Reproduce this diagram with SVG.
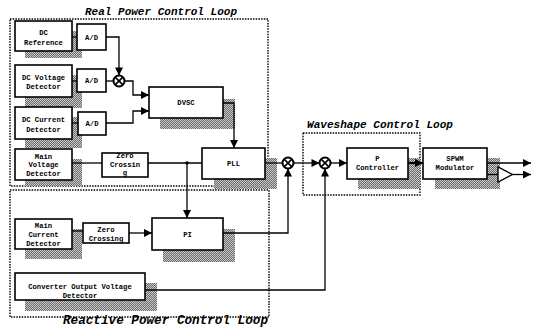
<svg xmlns="http://www.w3.org/2000/svg" width="543" height="327" viewBox="0 0 543 327">
<defs>
<pattern id="ht" width="2" height="2" patternUnits="userSpaceOnUse">
<rect width="2" height="2" fill="#6a6a6a"/>
<rect width="1" height="1" fill="#d0d0d0"/>
<rect x="1" y="1" width="1" height="1" fill="#c4c4c4"/>
</pattern>
<marker id="ar" viewBox="0 0 10 10" refX="10" refY="5" markerWidth="9" markerHeight="8" markerUnits="userSpaceOnUse" orient="auto">
<path d="M0,0 L10,5 L0,10 Z" fill="#000"/>
</marker>
</defs>
<style>
.bx{fill:#fff;stroke:#000;stroke-width:1.6}
.sh{fill:url(#ht);stroke:none}
.lp{fill:none;stroke:#000;stroke-width:1.4;stroke-dasharray:1.5 1.2}
.t{font-family:"Liberation Mono","DejaVu Sans Mono",monospace;font-weight:bold;font-size:7.2px;text-anchor:middle;fill:#000}
.ti{font-family:"Liberation Mono","DejaVu Sans Mono",monospace;font-weight:bold;font-style:italic;fill:#000}
.c{fill:none;stroke:#000;stroke-width:1.3}
.ca{fill:none;stroke:#000;stroke-width:1.3;marker-end:url(#ar)}
.sj{fill:#fff;stroke:#000;stroke-width:2}
</style>
<rect width="543" height="327" fill="#fff"/>

<g id="loops">
<rect class="lp" x="10" y="19" width="258" height="167"/>
<rect class="lp" x="10" y="190" width="259" height="127"/>
<rect class="lp" x="303" y="133" width="117" height="62"/>
<text class="ti" x="85" y="15" font-size="11" textLength="152" lengthAdjust="spacingAndGlyphs">Real Power Control Loop</text>
<text class="ti" x="307" y="128" font-size="11" textLength="146" lengthAdjust="spacingAndGlyphs">Waveshape Control Loop</text>
<text class="ti" x="63" y="323.5" font-size="12.2" textLength="205" lengthAdjust="spacingAndGlyphs">Reactive Power Control Loop</text>
</g>

<g id="dc-reference">
<rect class="sh" x="25" y="31" width="57" height="27"/>
<rect class="bx" x="15" y="21" width="57" height="30"/>
<text class="t" x="43.5" y="34.5">DC</text>
<text class="t" x="43.5" y="44.5">Reference</text>
</g>
<g id="dc-voltage-detector">
<rect class="sh" x="25" y="75" width="57" height="33"/>
<rect class="bx" x="15" y="65" width="57" height="32"/>
<text class="t" x="43.5" y="79.5">DC Voltage</text>
<text class="t" x="43.5" y="88.5">Detector</text>
</g>
<g id="dc-current-detector">
<rect class="sh" x="25" y="117" width="57" height="31"/>
<rect class="bx" x="15" y="107" width="57" height="32"/>
<text class="t" x="43.5" y="121.5">DC Current</text>
<text class="t" x="43.5" y="131.5">Detector</text>
</g>
<g id="main-voltage-detector">
<rect class="sh" x="25" y="159" width="57" height="27"/>
<rect class="bx" x="15" y="149" width="57" height="31"/>
<text class="t" x="43.5" y="158.5">Main</text>
<text class="t" x="43.5" y="167">Voltage</text>
<text class="t" x="43.5" y="175.5">Detector</text>
</g>
<g id="ad1">
<rect class="bx" x="77" y="24" width="29" height="26"/>
<text class="t" x="91.5" y="39.5">A/D</text>
</g>
<g id="ad2">
<rect class="bx" x="77" y="69" width="29" height="23"/>
<text class="t" x="91.5" y="83">A/D</text>
</g>
<g id="ad3">
<rect class="bx" x="78" y="112" width="28" height="23"/>
<text class="t" x="92" y="126">A/D</text>
</g>
<g id="sum1">
<circle class="sj" cx="119" cy="81" r="5.5"/>
<path d="M115.1,77.1 L122.9,84.9 M122.9,77.1 L115.1,84.9" stroke="#000" stroke-width="1.6"/>
</g>
<g id="dvsc">
<rect class="sh" x="160" y="99" width="75" height="30"/>
<rect class="bx" x="149" y="87" width="74" height="31"/>
<text class="t" x="186" y="105">DVSC</text>
</g>
<g id="zero-crossing-1">
<rect class="bx" x="102" y="153" width="46" height="24"/>
<text class="t" x="125" y="157.5">Zero</text>
<text class="t" x="125" y="166.5">Crossin</text>
<text class="t" x="125" y="175">g</text>
</g>
<g id="pll">
<rect class="sh" x="214" y="158" width="63" height="31"/>
<rect class="bx" x="202" y="148" width="63" height="31"/>
<text class="t" x="233.5" y="166">PLL</text>
</g>
<g id="main-current-detector">
<rect class="sh" x="25" y="229" width="57" height="30"/>
<rect class="bx" x="15" y="219" width="57" height="30"/>
<text class="t" x="43.5" y="227.5">Main</text>
<text class="t" x="43.5" y="236.5">Current</text>
<text class="t" x="43.5" y="245.5">Detector</text>
</g>
<g id="zero-crossing-2">
<rect class="bx" x="83" y="223" width="46" height="20"/>
<text class="t" x="106" y="231.5">Zero</text>
<text class="t" x="106" y="241">Crossing</text>
</g>
<g id="pi">
<rect class="sh" x="163" y="229" width="72" height="33"/>
<rect class="bx" x="152" y="218" width="71" height="32"/>
<text class="t" x="187.5" y="236.5">PI</text>
</g>
<g id="converter-output-voltage-detector">
<rect class="sh" x="25" y="283" width="132" height="28"/>
<rect class="bx" x="15" y="273" width="130" height="27"/>
<text class="t" x="80" y="288.5">Converter Output Voltage</text>
<text class="t" x="80" y="297.5">Detector</text>
</g>
<g id="sum2">
<circle class="sj" cx="288" cy="163" r="5.5"/>
<path d="M284.1,159.1 L291.9,166.9 M291.9,159.1 L284.1,166.9" stroke="#000" stroke-width="1.6"/>
</g>
<g id="sum3">
<circle class="sj" cx="325" cy="163" r="5.5"/>
<path d="M321.1,159.1 L328.9,166.9 M328.9,159.1 L321.1,166.9" stroke="#000" stroke-width="1.6"/>
</g>
<g id="p-controller">
<rect class="sh" x="358" y="158" width="62" height="31"/>
<rect class="bx" x="347" y="148" width="61" height="31"/>
<text class="t" x="377.5" y="160.5">P</text>
<text class="t" x="377.5" y="170">Controller</text>
</g>
<g id="spwm-modulator">
<rect class="sh" x="435" y="158" width="65" height="31"/>
<rect class="bx" x="423" y="148" width="64" height="31"/>
<text class="t" x="455" y="160.5">SPWM</text>
<text class="t" x="455" y="170">Modulator</text>
</g>
<g id="buffer">
<path d="M498,167 L498,182 L512.5,174.5 Z" fill="#fff" stroke="#000" stroke-width="1.4"/>
</g>

<g id="connectors">
<path class="c" d="M72,37 H77"/>
<path class="c" d="M72,81 H77"/>
<path class="c" d="M72,123 H78"/>
<path class="ca" d="M106,37 H119 V75.5"/>
<path class="c" d="M106,81 H113.5"/>
<path class="ca" d="M124.5,81 H133 V95 H149"/>
<path class="ca" d="M106,123 H133 V111 H149"/>
<path class="ca" d="M223,103 H234 V148"/>
<path class="c" d="M72,163 H102"/>
<path class="c" d="M148,163 H202"/>
<circle cx="187" cy="163" r="1.8" fill="#000"/>
<path class="ca" d="M187,163 V218"/>
<path class="c" d="M72,231 H83"/>
<path class="ca" d="M129,233 H152"/>
<path class="ca" d="M223,233 H288 V168.5"/>
<path class="c" d="M265,163 H282.5"/>
<path class="ca" d="M293.5,163 H319.5"/>
<path class="ca" d="M145,290 H325 V168.5"/>
<path class="ca" d="M330.5,163 H347"/>
<path d="M408,163 H423" fill="none" stroke="#000" stroke-width="2.2" marker-end="url(#ar)"/>
<path class="ca" d="M487,163 H531"/>
<path class="c" d="M487,174.5 H498"/>
<path class="ca" d="M512.5,174.5 H531"/>
</g>
</svg>
